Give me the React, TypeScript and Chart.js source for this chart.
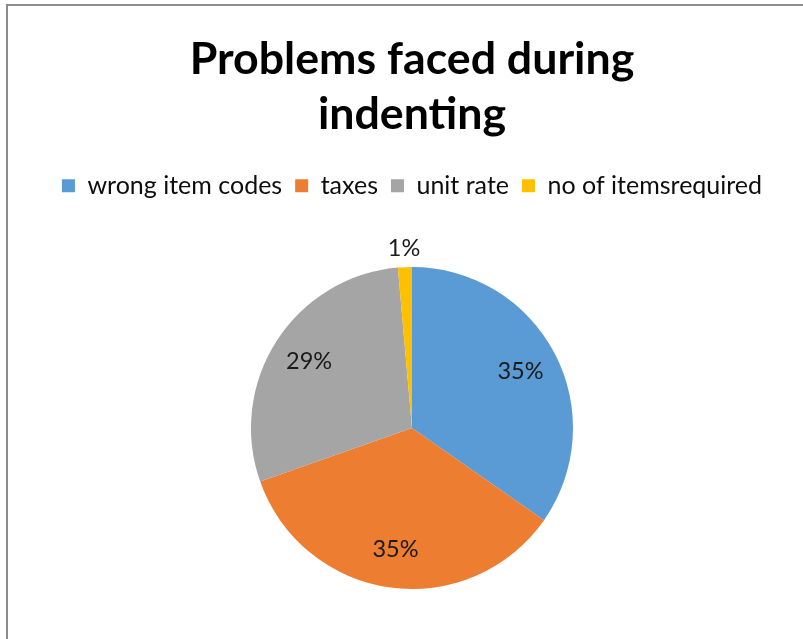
import React, { useEffect, useRef } from "react";
import { Chart, registerables } from "chart.js";

Chart.register(...registerables);

const titleLines = ["Problems faced during", "indenting"];
const categories = ["wrong item codes", "taxes", "unit rate", "no of itemsrequired"];
const shares = [34.7, 34.9, 29.0, 1.4];
const colors = ["#5B9BD5", "#ED7D31", "#A5A5A5", "#FFC000"];

const labelPlugin = {
  id: "sliceLabels",
  afterDatasetsDraw(chart: any) {
    const ctx = chart.ctx;
    const meta = chart.getDatasetMeta(0);
    const values: number[] = chart.data.datasets[0].data;
    const total = values.reduce((a, b) => a + b, 0);
    ctx.save();
    ctx.font = "23.5px Lato";
    ctx.fillStyle = "#1a1a1a";
    ctx.textAlign = "center";
    ctx.textBaseline = "middle";
    meta.data.forEach((arc: any, i: number) => {
      const p = arc.getProps(["x", "y", "startAngle", "endAngle", "outerRadius"], true);
      const mid = (p.startAngle + p.endAngle) / 2;
      const pct = (values[i] / total) * 100;
      const r = pct < 5 ? p.outerRadius + 19 : p.outerRadius * 0.76;
      ctx.fillText(Math.round(pct) + "%", p.x + Math.cos(mid) * r, p.y + Math.sin(mid) * r);
    });
    ctx.restore();
  },
};

export default function App() {
  const ref = useRef<HTMLCanvasElement | null>(null);
  useEffect(() => {
    if (!ref.current) return;
    const chart = new Chart(ref.current, {
      type: "pie",
      data: {
        labels: categories,
        datasets: [
          {
            data: shares,
            backgroundColor: colors,
            borderWidth: 0,
          },
        ],
      },
      options: {
        animation: false,
        responsive: false,
        maintainAspectRatio: false,
        radius: 161,
        layout: { padding: { top: 0, bottom: 58.2, left: 0, right: 0 } },
        plugins: {
          tooltip: { enabled: false },
          title: {
            display: true,
            text: titleLines,
            color: "#000",
            font: { family: "Lato", size: 44.7, weight: "bold", lineHeight: 55 / 44.7 },
            padding: { top: 26.5, bottom: 17.7 },
          },
          legend: {
            display: true,
            position: "top",
            labels: {
              boxWidth: 13,
              boxHeight: 13,
              padding: 13,
              color: "#0d0d0d",
              font: { family: "Lato", size: 25 },
            },
          },
        },
      } as any,
      plugins: [labelPlugin],
    });
    return () => chart.destroy();
  }, []);
  return (
    <div
      style={{
        position: "fixed",
        left: 6,
        top: 4,
        width: 797,
        height: 635,
        borderLeft: "2px solid #8c8c8c",
        borderTop: "2px solid #8c8c8c",
        overflow: "hidden",
        background: "#fff",
      }}
    >
      <canvas ref={ref} width={808} height={700} style={{ display: "block", width: 808, height: 700 }} />
    </div>
  );
}
